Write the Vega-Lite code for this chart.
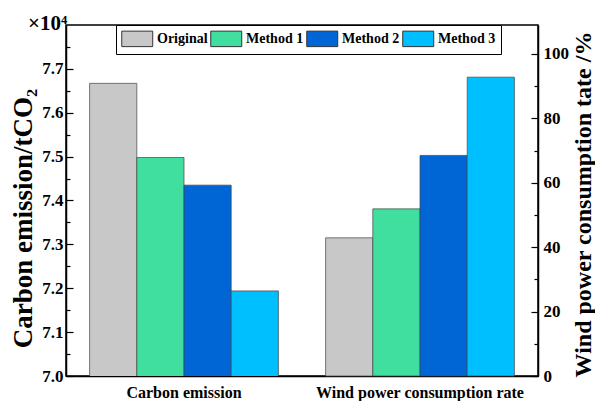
{
  "$schema": "https://vega.github.io/schema/vega-lite/v6.json",
  "width": 472,
  "height": 351,
  "autosize": {"type": "none"},
  "padding": {"left": 66, "top": 25, "right": 57, "bottom": 25},
  "background": "white",
  "config": {
    "font": "Liberation Serif",
    "view": {"stroke": "black", "strokeWidth": 1.5},
    "axis": {"labelFont": "Liberation Serif", "titleFont": "Liberation Serif", "labelFontWeight": "bold", "titleFontWeight": "bold", "labelColor": "black", "titleColor": "black", "domainColor": "black", "domainWidth": 1.5, "tickColor": "black", "tickWidth": 1.2, "grid": false}
  },
  "title": {"text": "×10⁴", "anchor": "start", "frame": "group", "orient": "top", "offset": 0, "baseline": "alphabetic", "dx": -38, "dy": 26, "fontSize": 21, "fontWeight": "bold", "font": "Liberation Serif", "color": "black"},
  "data": {"values": [
    {"category": "Carbon emission", "method": "Original", "value": 7.667},
    {"category": "Carbon emission", "method": "Method 1", "value": 7.498},
    {"category": "Carbon emission", "method": "Method 2", "value": 7.435},
    {"category": "Carbon emission", "method": "Method 3", "value": 7.194},
    {"category": "Wind power consumption rate", "method": "Original", "value": 42.9},
    {"category": "Wind power consumption rate", "method": "Method 1", "value": 51.9},
    {"category": "Wind power consumption rate", "method": "Method 2", "value": 68.5},
    {"category": "Wind power consumption rate", "method": "Method 3", "value": 92.8}
  ]},
  "encoding": {
    "x": {"field": "category", "type": "nominal", "scale": {"domain": ["Carbon emission", "Wind power consumption rate"], "paddingInner": 0.2, "paddingOuter": 0.1},
      "axis": {"title": null, "labelAngle": 0, "labelFontSize": 16, "labelPadding": 8, "labelLimit": 0, "ticks": false}},
    "xOffset": {"field": "method", "type": "nominal", "scale": {"domain": ["Original", "Method 1", "Method 2", "Method 3"], "paddingInner": 0, "paddingOuter": 0}},
    "color": {"field": "method", "type": "nominal", "scale": {"domain": ["Original", "Method 1", "Method 2", "Method 3"], "range": ["#C8C8C8", "#40DFA0", "#0066D6", "#00BFFF"]},
      "legend": {"orient": "none", "legendX": 50, "legendY": 0, "direction": "horizontal", "columns": 4, "title": null, "padding": 5, "strokeColor": "black", "fillColor": "white", "symbolType": "M-1,-1H3V1H-1Z", "symbolSize": 240, "labelOffset": 19, "columnPadding": 0, "labelFontSize": 14, "labelFontWeight": "bold", "labelFont": "Liberation Serif", "labelColor": "black", "symbolStrokeColor": "#333", "symbolStrokeWidth": 1, "symbolOpacity": 1}}
  },
  "layer": [
    {
      "transform": [{"filter": "datum.category == 'Carbon emission'"}],
      "mark": {"type": "bar", "stroke": "#444", "strokeWidth": 1, "strokeOpacity": 0.7, "clip": true},
      "encoding": {
        "y": {"field": "value", "type": "quantitative", "scale": {"domain": [7.0, 7.8], "zero": false, "nice": false},
          "axis": {"orient": "left", "title": "Carbon emission/tCO₂", "titleFontSize": 27, "titlePadding": 4, "titleY": 193, "labelFontSize": 17, "labelPadding": 10,
            "values": [7.0, 7.05, 7.1, 7.15, 7.2, 7.25, 7.3, 7.35, 7.4, 7.45, 7.5, 7.55, 7.6, 7.65, 7.7, 7.75],
            "labelExpr": "abs(datum.value*10 - round(datum.value*10)) < 0.01 ? format(datum.value, '.1f') : ''",
            "tickSize": {"condition": {"test": "abs(datum.value*10 - round(datum.value*10)) < 0.01", "value": -7}, "value": -4}}}
      }
    },
    {
      "transform": [{"filter": "datum.category == 'Wind power consumption rate'"}],
      "mark": {"type": "bar", "stroke": "#444", "strokeWidth": 1, "strokeOpacity": 0.7},
      "encoding": {
        "y": {"field": "value", "type": "quantitative", "scale": {"domain": [0, 109], "nice": false},
          "axis": {"orient": "right", "title": "Wind power consumption tate /%", "titleFontSize": 24, "titleAngle": 270, "titlePadding": 27, "titleY": 179, "labelFontSize": 17, "labelPadding": 12,
            "values": [0, 10, 20, 30, 40, 50, 60, 70, 80, 90, 100],
            "labelExpr": "datum.value % 20 == 0 ? datum.label : ''",
            "tickSize": {"condition": {"test": "datum.value % 20 == 0", "value": -7}, "value": -4}}}
      }
    }
  ],
  "resolve": {"scale": {"y": "independent"}, "axis": {"y": "independent"}}
}
